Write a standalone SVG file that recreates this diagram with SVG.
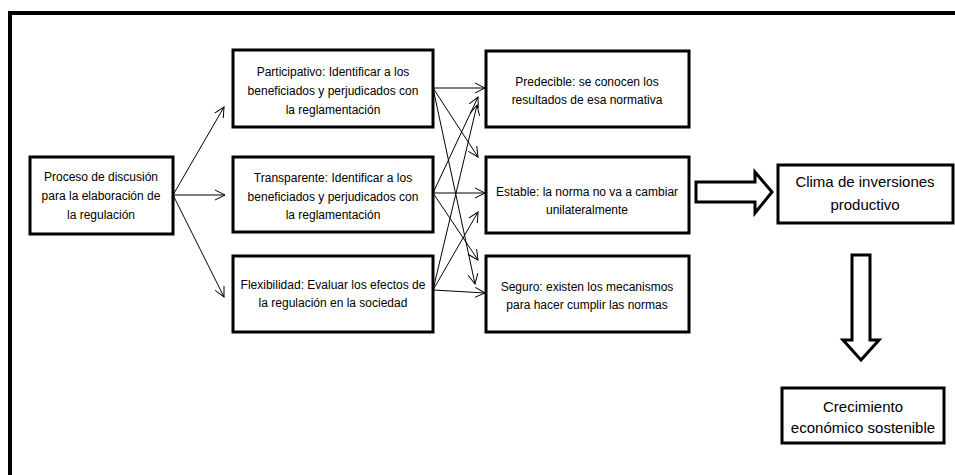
<svg xmlns="http://www.w3.org/2000/svg" width="955" height="475" viewBox="0 0 955 475">
<style>
.box{fill:#fff;stroke:#000;stroke-width:3}
.t{font-family:"Liberation Sans",Arial,sans-serif;font-size:12px;fill:#000;text-anchor:middle}
.tb{font-family:"Liberation Sans",Arial,sans-serif;font-size:15px;fill:#000;text-anchor:middle}
.c{stroke:#000;stroke-width:1;fill:none;marker-end:url(#ah)}
.big{fill:#fff;stroke:#000;stroke-width:3;stroke-linejoin:miter}
</style>
<defs>
<marker id="ah" markerWidth="12" markerHeight="12" refX="10" refY="5" orient="auto" markerUnits="userSpaceOnUse" viewBox="0 0 12 10">
<path d="M0,0 L10,5 L0,10" fill="none" stroke="#000" stroke-width="1"/>
</marker>
</defs>
<rect x="0" y="0" width="955" height="475" fill="#fff"/>
<rect x="10" y="13" width="960" height="480" fill="none" stroke="#000" stroke-width="4"/>
<g id="connectors">
<line class="c" x1="173" y1="195" x2="224" y2="107"/>
<line class="c" x1="173" y1="195" x2="225" y2="195"/>
<line class="c" x1="173" y1="195" x2="224" y2="297"/>
<line class="c" x1="433" y1="88" x2="485" y2="88"/>
<line class="c" x1="433" y1="88" x2="478" y2="157"/>
<line class="c" x1="433" y1="88" x2="475" y2="284"/>
<line class="c" x1="433" y1="193" x2="478" y2="97"/>
<line class="c" x1="433" y1="193" x2="485" y2="193"/>
<line class="c" x1="433" y1="193" x2="478" y2="260"/>
<line class="c" x1="433" y1="290" x2="477" y2="105"/>
<line class="c" x1="433" y1="290" x2="478" y2="212"/>
<line class="c" x1="433" y1="290" x2="485" y2="293"/>
<polygon class="big" points="696,182 755,182 755,172 772,192 755,213 755,202 696,202"/>
<polygon class="big" points="852,255 870,255 870,340 879,340 861,360 843,340 852,340"/>
</g>
<g id="proceso">
<rect class="box" x="30" y="157" width="143" height="77"/>
<text class="t" x="101" y="181">Proceso de discusión</text>
<text class="t" x="101" y="200">para la elaboración de</text>
<text class="t" x="101" y="219">la regulación</text>
</g>
<g id="participativo">
<rect class="box" x="233" y="50" width="200" height="77"/>
<text class="t" x="333" y="76">Participativo: Identificar a los</text>
<text class="t" x="333" y="95">beneficiados y perjudicados con</text>
<text class="t" x="333" y="114">la reglamentación</text>
</g>
<g id="transparente">
<rect class="box" x="233" y="157" width="200" height="75"/>
<text class="t" x="333" y="182">Transparente: Identificar a los</text>
<text class="t" x="333" y="201">beneficiados y perjudicados con</text>
<text class="t" x="333" y="219">la reglamentación</text>
</g>
<g id="flexibilidad">
<rect class="box" x="233" y="256" width="200" height="76"/>
<text class="t" x="333" y="289">Flexibilidad: Evaluar los efectos de</text>
<text class="t" x="333" y="307">la regulación en la sociedad</text>
</g>
<g id="predecible">
<rect class="box" x="486" y="51" width="203" height="76"/>
<text class="t" x="587" y="86">Predecible: se conocen los</text>
<text class="t" x="587" y="104">resultados de esa normativa</text>
</g>
<g id="estable">
<rect class="box" x="486" y="157" width="203" height="76"/>
<text class="t" x="587" y="196">Estable: la norma no va a cambiar</text>
<text class="t" x="587" y="214">unilateralmente</text>
</g>
<g id="seguro">
<rect class="box" x="486" y="256" width="203" height="76"/>
<text class="t" x="587" y="291">Seguro: existen los mecanismos</text>
<text class="t" x="587" y="309">para hacer cumplir las normas</text>
</g>
<g id="clima">
<rect class="box" x="778" y="165" width="175" height="58"/>
<text class="tb" x="865" y="187">Clima de inversiones</text>
<text class="tb" x="865" y="210">productivo</text>
</g>
<g id="crecimiento">
<rect class="box" x="782" y="388" width="162" height="55"/>
<text class="tb" x="863" y="412">Crecimiento</text>
<text class="tb" x="863" y="433">económico sostenible</text>
</g>
</svg>
